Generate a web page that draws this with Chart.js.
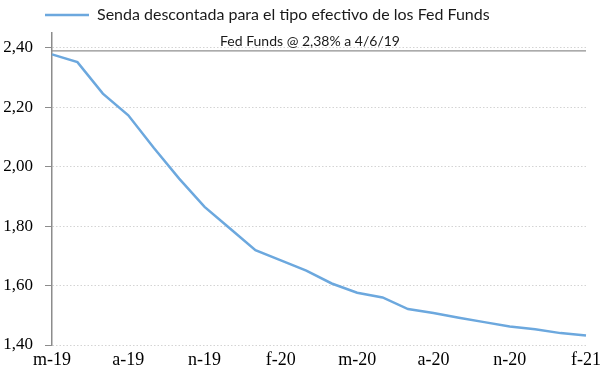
<!DOCTYPE html>
<html><head><meta charset="utf-8">
<script src="https://cdn.jsdelivr.net/npm/chart.js@4.4.1/dist/chart.umd.min.js"></script>
<style>html,body{margin:0;padding:0;background:#fff}</style>
</head><body>
<canvas id="c" width="600" height="377"></canvas>
<script>
const categories = ['m-19','j-19','j-19','a-19','s-19','o-19','n-19','d-19','e-20','f-20','m-20','a-20','m-20','j-20','j-20','a-20','s-20','o-20','n-20','d-20','e-21','f-21'];
const sendaValues = [2.378,2.352,2.246,2.173,2.064,1.960,1.865,1.792,1.719,1.685,1.650,1.607,1.576,1.560,1.521,1.508,1.492,1.477,1.462,1.453,1.440,1.432];
const fedFundsLevel = 2.39;
const yTickValues = [1.4,1.6,1.8,2.0,2.2,2.4];
const legendLabel = 'Senda descontada para el tipo efectivo de los Fed Funds';
const fedFundsLabel = 'Fed Funds @ 2,38% a 4/6/19';

const fedLabelPlugin = {
  id: 'fedLabel',
  afterDatasetsDraw(chart) {
    const y = chart.scales.y.getPixelForValue(fedFundsLevel);
    const ctx = chart.ctx;
    ctx.save();
    ctx.font = '14px Lato';
    ctx.fillStyle = '#1a1a1a';
    ctx.textAlign = 'center';
    ctx.textBaseline = 'alphabetic';
    ctx.fillText(fedFundsLabel, 310, y - 5);
    ctx.restore();
  }
};
const legendShift = {
  id: 'legendShift',
  afterLayout(chart) {
    const lg = chart.legend;
    if (!lg) return;
    const w = lg.right - lg.left;
    lg.left = 38;
    lg.right = lg.left + w;
  }
};

new Chart(document.getElementById('c'), {
  type: 'line',
  data: {
    labels: categories,
    datasets: [
      { label: legendLabel, data: sendaValues, borderColor: '#6CA8DE', backgroundColor: '#6CA8DE',
        borderWidth: 2.5, pointRadius: 0, tension: 0, fill: false },
      { label: 'ff', data: categories.map(() => fedFundsLevel), borderColor: '#8f8f8f',
        borderWidth: 1.2, pointRadius: 0, tension: 0, fill: false }
    ]
  },
  options: {
    responsive: false,
    animation: false,
    devicePixelRatio: 1,
    events: [],
    layout: { padding: { left: 2, right: 14, top: 0, bottom: 0 } },
    plugins: {
      tooltip: { enabled: false },
      legend: {
        display: true, position: 'top', align: 'start',
        labels: {
          filter: item => item.datasetIndex === 0,
          usePointStyle: true, pointStyle: 'line', pointStyleWidth: 44,
          font: { family: 'Lato', size: 16 }, color: '#1a1a1a', padding: 7
        }
      }
    },
    scales: {
      x: {
        grid: { display: false, drawTicks: false },
        border: { display: false },
        ticks: {
          autoSkip: false, maxRotation: 0, minRotation: 0,
          callback: (v, i) => (i % 3 === 0 ? categories[i] : ''),
          font: { family: 'Liberation Serif', size: 18 }, color: '#000', padding: 4
        },
        afterFit: s => { s.paddingLeft = 0; s.paddingRight = 0; s.height = 32; }
      },
      y: {
        min: 1.4, max: 2.45,
        afterBuildTicks: s => { s.ticks = yTickValues.map(v => ({ value: v })); },
        afterFit: s => { s.width = 50; },
        ticks: {
          callback: v => Number(v).toFixed(2).replace('.', ','),
          font: { family: 'Liberation Serif', size: 17 }, color: '#000', padding: 12
        },
        grid: { color: '#d4d4d4', lineWidth: 1, tickColor: '#8c8c8c', tickLength: 7, tickBorderDash: [] },
        border: { display: true, color: '#8c8c8c', width: 1.5, dash: [1.5, 2] }
      }
    }
  },
  plugins: [fedLabelPlugin, legendShift]
});
</script>
</body></html>
